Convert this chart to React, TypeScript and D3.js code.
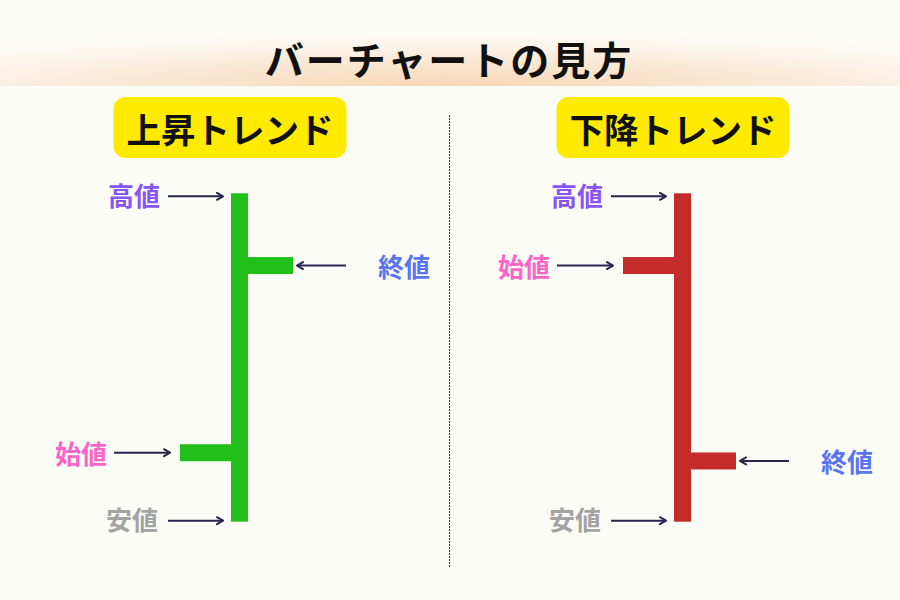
import React from "react";
import * as d3 from "d3";

// Chart content
const TITLE = "バーチャートの見方";
const TRENDS = ["上昇トレンド", "下降トレンド"];
const HIGH = [100, 100];
const LOW = [0, 0];
const OPEN = [21, 78];
const CLOSE = [78, 18.5];
const BAR_COLORS = ["#20c018", "#c62b2b"];

const LABEL_HIGH = "高値";
const LABEL_LOW = "安値";
const LABEL_OPEN = "始値";
const LABEL_CLOSE = "終値";

const LABEL_COLORS: Record<string, string> = {
    [LABEL_HIGH]: "#8a55f5",
    [LABEL_LOW]: "#a3a3a3",
    [LABEL_OPEN]: "#ff63c8",
    [LABEL_CLOSE]: "#5b74f2",
};

const W = 900;
const H = 600;
const FONT = "'Noto Sans CJK JP', 'Noto Sans', sans-serif";
const ARROW = "#27264f";
const BAR_W = 17;

export default function App() {
    const x = d3.scalePoint<string>().domain(TRENDS).range([239.5, 682.5]);
    const y = d3.scaleLinear().domain([0, 100]).range([521.7, 193.3]);

    const label = (text: string, lx: number, ly: number, anchor: "start" | "end") => (
        <text x={lx} y={ly} textAnchor={anchor} dominantBaseline="central"
            fontSize={26} fontWeight={700} fill={LABEL_COLORS[text]} fontFamily={FONT}>{text}</text>
    );

    const arrow = (x1: number, x2: number, ay: number) => (
        <line x1={x1} x2={x2} y1={ay} y2={ay} stroke={ARROW} strokeWidth={2} markerEnd="url(#head)" />
    );

    return (
        <svg width={W} height={H} viewBox={`0 0 ${W} ${H}`}
            style={{ position: "absolute", left: 0, top: 0, display: "block" }}>
            <defs>
                <radialGradient id="band" cx="0.5" cy="1" r="0.85">
                    <stop offset="0" stopColor="#f7d6b4" stopOpacity={1} />
                    <stop offset="0.5" stopColor="#f9e2cb" stopOpacity={0.65} />
                    <stop offset="1" stopColor="#fcfcf7" stopOpacity={0} />
                </radialGradient>
                <marker id="head" viewBox="0 0 8 10" refX={7} refY={5} markerWidth={8} markerHeight={10}
                    markerUnits="userSpaceOnUse" orient="auto">
                    <path d="M1,1.5 L7,5 L1,8.5" fill="none" stroke={ARROW} strokeWidth={2}
                        strokeLinecap="round" strokeLinejoin="round" />
                </marker>
            </defs>

            <rect width={W} height={H} fill="#fcfcf7" />
            <rect x={0} y={14} width={W} height={72} fill="url(#band)" />
            <text x={449} y={58} textAnchor="middle" dominantBaseline="central" letterSpacing={2}
                fontSize={39} fontWeight={700} fill="#111" fontFamily={FONT}>{TITLE}</text>

            <line x1={449.5} x2={449.5} y1={115} y2={568} stroke="#34345f" strokeWidth={1} strokeDasharray="2 1" />

            {TRENDS.map((t, i) => {
                const cx = x(t)!;
                const left = cx - BAR_W / 2;
                const right = cx + BAR_W / 2;
                const openStart = left - 51;
                const closeEnd = right + 45;
                const yH = y(HIGH[i]);
                const yL = y(LOW[i]);
                const yO = y(OPEN[i]);
                const yC = y(CLOSE[i]);
                return (
                    <g key={t}>
                        {/* badge */}
                        <rect x={cx - 126} y={97} width={233} height={61} rx={12} fill="#ffea00" />
                        <text x={cx - 9.5} y={128} textAnchor="middle" dominantBaseline="central"
                            fontSize={34.5} fontWeight={700} fill="#111" fontFamily={FONT}>{t}</text>

                        {/* bar */}
                        <rect x={left} y={yH} width={BAR_W} height={yL - yH} fill={BAR_COLORS[i]} />
                        <rect x={openStart} y={yO - BAR_W / 2} width={left - openStart} height={BAR_W} fill={BAR_COLORS[i]} />
                        <rect x={right} y={yC - BAR_W / 2} width={closeEnd - right} height={BAR_W} fill={BAR_COLORS[i]} />

                        {/* annotations */}
                        {arrow(left - 63, left - 8, yH + 3)}
                        {label(LABEL_HIGH, left - 71, yH + 1, "end")}
                        {arrow(left - 63, left - 8, yL - 1)}
                        {label(LABEL_LOW, left - 73, yL - 3, "end")}
                        {arrow(openStart - 66, openStart - 10, yO)}
                        {label(LABEL_OPEN, openStart - 73, yO, "end")}
                        {arrow(closeEnd + 53, closeEnd + 4, yC)}
                        {label(LABEL_CLOSE, closeEnd + 85, yC, "start")}
                    </g>
                );
            })}
        </svg>
    );
}
